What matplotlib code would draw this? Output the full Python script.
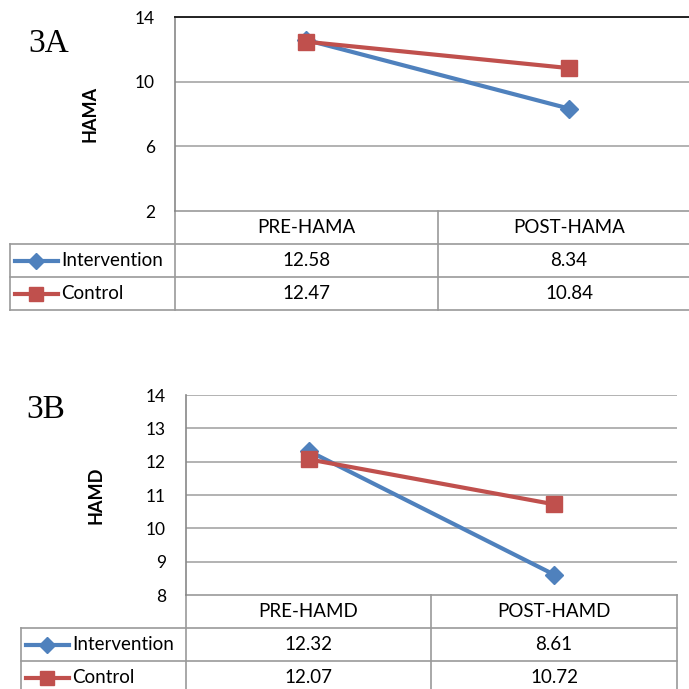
import matplotlib.pyplot as plt
import matplotlib.lines as mlines

# data
series = ['Intervention', 'Control']
colors = ['#4F81BD', '#C0504D']
markers = ['D', 's']

cats_a = ['PRE-HAMA', 'POST-HAMA']
vals_a = {'Intervention': [12.58, 8.34], 'Control': [12.47, 10.84]}
ticks_a = [2, 6, 10, 14]

cats_b = ['PRE-HAMD', 'POST-HAMD']
vals_b = {'Intervention': [12.32, 8.61], 'Control': [12.07, 10.72]}
ticks_b = [8, 9, 10, 11, 12, 13, 14]

W = H = 689
fig = plt.figure(figsize=(6.89, 6.89), dpi=100)
plt.rcParams['font.family'] = ['Lato', 'DejaVu Sans']

# background axes in pixel coordinates (y down) for the table and labels
bg = fig.add_axes([0, 0, 1, 1])
bg.set_xlim(0, W)
bg.set_ylim(H, 0)
bg.axis('off')

grid_c = '#A6A6A6'
tab_c = '#9A9A9A'
fs = 13.5
tick_fs = 12.5


def panel(cats, vals, ticks, ylabel, tag, left, top, bottom, right, col_mid, tab_left, row_h,
          tag_xy, ylab_x, top_dark):
    ax = fig.add_axes([left / W, 1 - bottom / H, (right - left) / W, (bottom - top) / H])
    ax.set_xlim(-0.5, 1.5)
    ax.set_ylim(ticks[0], ticks[-1])
    ax.set_yticks(ticks)
    ax.set_xticks([])
    ax.tick_params(axis='y', length=0, pad=14.5, labelsize=tick_fs)
    for t in ticks[1:]:
        ax.axhline(t, color=grid_c, lw=1.2, zorder=1)
    for s in ['right', 'bottom']:
        ax.spines[s].set_visible(False)
    ax.spines['left'].set_color('#888888')
    ax.spines['left'].set_linewidth(1.2)
    ax.spines['top'].set_visible(top_dark)
    ax.spines['top'].set_color('#222222')
    ax.spines['top'].set_linewidth(1.4)
    ax.patch.set_alpha(0)
    for name, c, m in zip(series, colors, markers):
        ax.plot(range(len(cats)), vals[name], color=c, lw=3, marker=m,
                markersize=12 if m == 's' else 9.5, zorder=3, clip_on=False)

    # table
    r0, r1, r2, r3 = bottom, bottom + row_h, bottom + 2 * row_h, bottom + 3 * row_h
    bg.plot([left, right], [r0, r0], color=tab_c, lw=1.2)
    for y in [r1, r2, r3]:
        bg.plot([tab_left, right], [y, y], color=tab_c, lw=1.2)
    bg.plot([tab_left, tab_left], [r1, r3], color=tab_c, lw=1.2)
    bg.plot([left, left], [r0, r3], color=tab_c, lw=1.2)
    bg.plot([col_mid, col_mid], [r0, r3], color=tab_c, lw=1.2)
    bg.plot([right, right], [r0, r3], color=tab_c, lw=1.2)
    centers = [(left + col_mid) / 2, (col_mid + right) / 2]
    for cx, cat in zip(centers, cats):
        bg.text(cx, (r0 + r1) / 2, cat, ha='center', va='center', fontsize=fs)
    for i, (name, c, m) in enumerate(zip(series, colors, markers)):
        yc = (r1 + r2) / 2 if i == 0 else (r2 + r3) / 2
        for cx, v in zip(centers, vals[name]):
            bg.text(cx, yc, f'{v:.2f}', ha='center', va='center', fontsize=fs)
        bg.add_line(mlines.Line2D([tab_left + 5, tab_left + 48], [yc, yc], color=c, lw=3))
        bg.plot([tab_left + 26], [yc], marker=m, color=c, markersize=10 if m == 's' else 8)
        bg.text(tab_left + 51, yc, name, ha='left', va='center', fontsize=fs)

    bg.text(tag_xy[0], tag_xy[1], tag, ha='left', va='center', fontsize=24,
            family='Liberation Serif')
    bg.text(ylab_x, (top + bottom) / 2, ylabel, ha='center', va='center', rotation=90,
            fontsize=13, fontweight='bold')


panel(cats_a, vals_a, ticks_a, 'HAMA', '3A', left=175, top=17, bottom=211, right=700,
      col_mid=438, tab_left=10, row_h=33, tag_xy=(28, 44), ylab_x=90, top_dark=True)
panel(cats_b, vals_b, ticks_b, 'HAMD', '3B', left=186, top=395, bottom=595, right=677,
      col_mid=431, tab_left=21, row_h=33, tag_xy=(26, 410), ylab_x=96, top_dark=False)

fig.savefig('out.png', dpi=100)
